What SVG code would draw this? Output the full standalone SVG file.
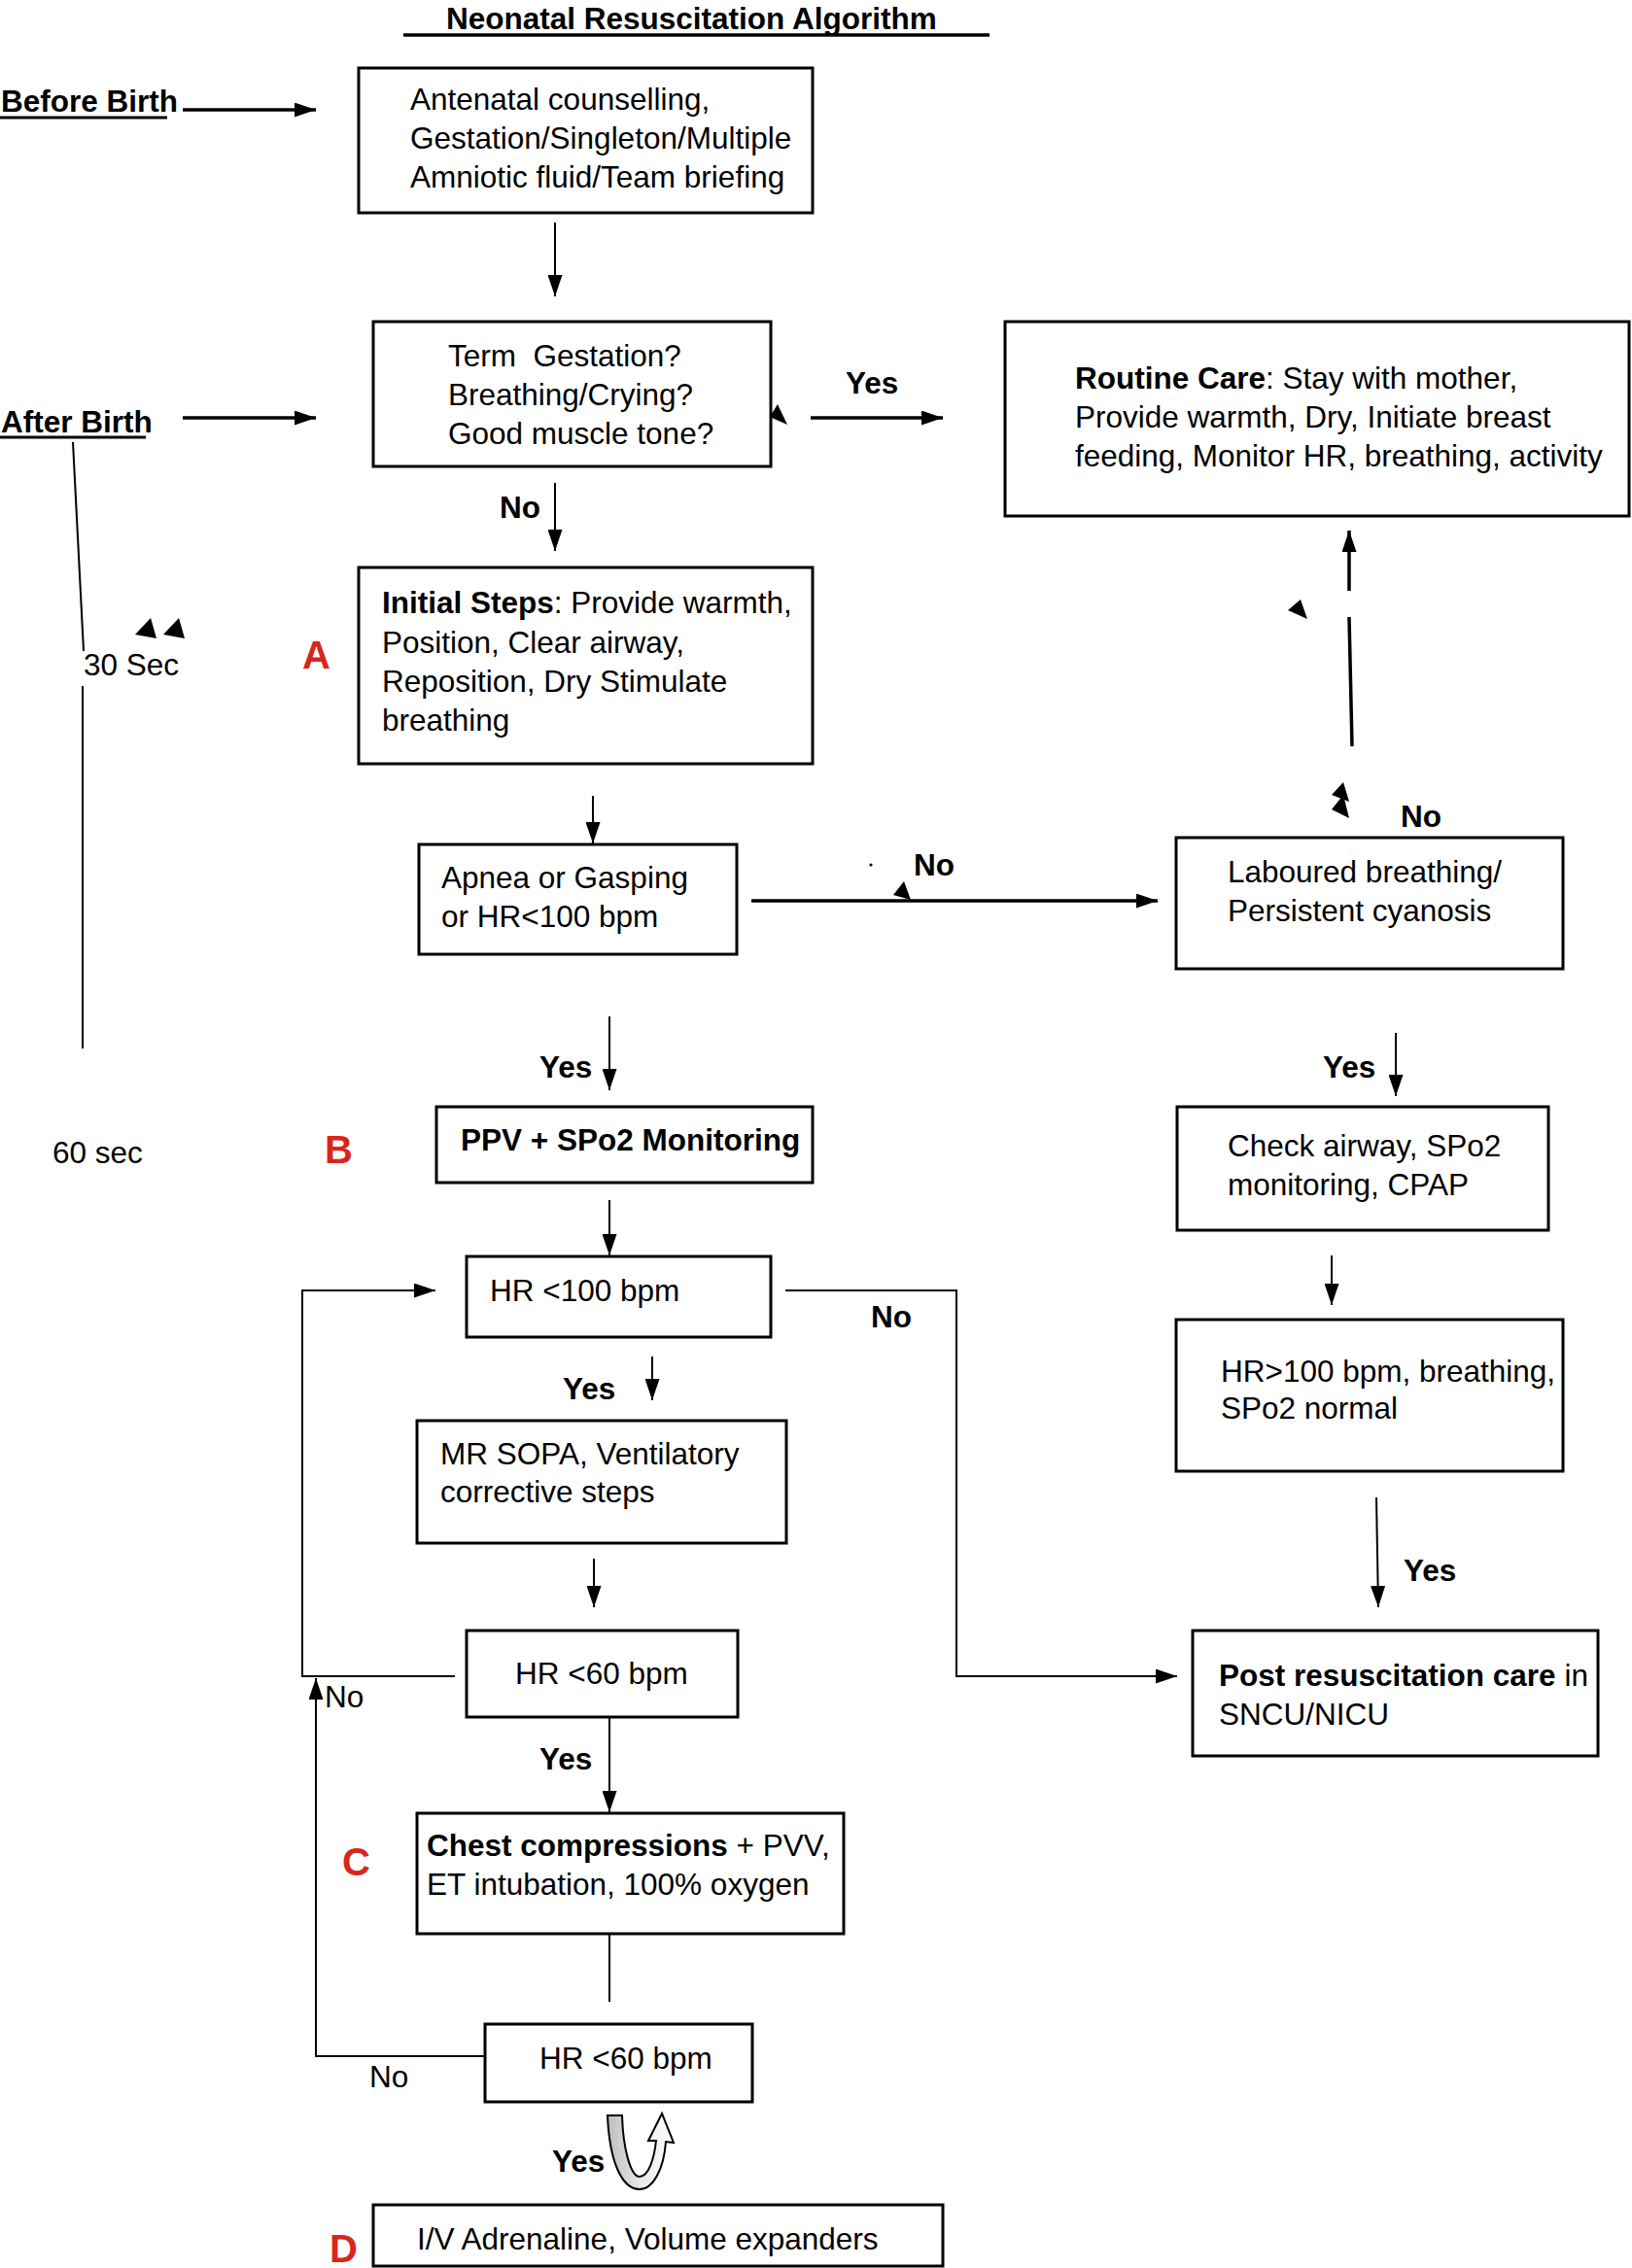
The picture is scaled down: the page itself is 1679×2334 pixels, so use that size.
<svg xmlns="http://www.w3.org/2000/svg" width="1679" height="2334" viewBox="0 0 1679 2334">
<style>
.t{font-family:"Liberation Sans",Arial,Helvetica,sans-serif;font-size:31.5px;fill:#000}
.b{font-weight:bold}
.red{font-family:"Liberation Sans",Arial,Helvetica,sans-serif;font-size:40px;font-weight:bold;fill:#d9261c}
.box{fill:#fff;stroke:#000;stroke-width:3}
.ln{stroke:#000;stroke-width:2;fill:none}
.thk{stroke-width:3.5}
.ah{fill:#000;stroke:none}
</style>
<defs>
<marker id="arr" markerUnits="userSpaceOnUse" viewBox="0 0 22 15" markerWidth="22" markerHeight="15" refX="22" refY="7.5" orient="auto">
<path d="M0,0 L22,7.5 L0,15 z" fill="#000"/>
</marker>
<linearGradient id="ug" x1="0" y1="0" x2="1" y2="0">
<stop offset="0" stop-color="#bdbdbd"/>
<stop offset="0.5" stop-color="#e8e8e8"/>
<stop offset="1" stop-color="#ffffff"/>
</linearGradient>
</defs>
<rect width="1679" height="2334" fill="#fff"/>

<g id="title">
<text class="t b" x="459" y="30">Neonatal Resuscitation Algorithm</text>
<line x1="415" y1="36" x2="1018" y2="36" stroke="#000" stroke-width="3.5"/>
</g>

<g id="labels">
<text class="t b" x="1" y="115">Before Birth</text>
<line x1="0" y1="121" x2="172" y2="121" stroke="#000" stroke-width="3"/>
<text class="t b" x="1" y="445">After Birth</text>
<line x1="0" y1="450" x2="150" y2="450" stroke="#000" stroke-width="3"/>
<text class="t" x="86" y="695">30 Sec</text>
<text class="t" x="54" y="1197">60 sec</text>
<text class="red" x="311" y="688">A</text>
<text class="red" x="334" y="1197">B</text>
<text class="red" x="352" y="1930">C</text>
<text class="red" x="339" y="2328">D</text>
<text class="t b" x="870" y="405">Yes</text>
<text class="t b" x="514" y="533">No</text>
<text class="t b" x="940" y="901">No</text>
<text class="t b" x="1441" y="851">No</text>
<text class="t b" x="555" y="1109">Yes</text>
<text class="t b" x="1361" y="1109">Yes</text>
<text class="t b" x="896" y="1366">No</text>
<text class="t b" x="579" y="1440">Yes</text>
<text class="t b" x="1444" y="1627">Yes</text>
<text class="t" x="334" y="1757">No</text>
<text class="t b" x="555" y="1821">Yes</text>
<text class="t" x="380" y="2148">No</text>
<text class="t b" x="568" y="2235">Yes</text>
</g>

<g id="n_antenatal">
<rect class="box" x="369" y="70" width="467" height="149"/>
<text class="t" x="422" y="113">Antenatal counselling,</text>
<text class="t" x="422" y="153">Gestation/Singleton/Multiple</text>
<text class="t" x="422" y="193">Amniotic fluid/Team briefing</text>
</g>

<g id="n_assess">
<rect class="box" x="384" y="331" width="409" height="149"/>
<text class="t" x="461" y="377" xml:space="preserve">Term  Gestation?</text>
<text class="t" x="461" y="417">Breathing/Crying?</text>
<text class="t" x="461" y="457">Good muscle tone?</text>
</g>

<g id="n_routine">
<rect class="box" x="1034" y="331" width="642" height="200"/>
<text class="t" x="1106" y="400"><tspan class="b">Routine Care</tspan>: Stay with mother,</text>
<text class="t" x="1106" y="440">Provide warmth, Dry, Initiate breast</text>
<text class="t" x="1106" y="480">feeding, Monitor HR, breathing, activity</text>
</g>

<g id="n_initial">
<rect class="box" x="369" y="584" width="467" height="202"/>
<text class="t" x="393" y="631"><tspan class="b">Initial Steps</tspan>: Provide warmth,</text>
<text class="t" x="393" y="672">Position, Clear airway,</text>
<text class="t" x="393" y="712">Reposition, Dry Stimulate</text>
<text class="t" x="393" y="752">breathing</text>
</g>

<g id="n_apnea">
<rect class="box" x="431" y="869" width="327" height="113"/>
<text class="t" x="454" y="914">Apnea or Gasping</text>
<text class="t" x="454" y="954">or HR&lt;100 bpm</text>
</g>

<g id="n_laboured">
<rect class="box" x="1210" y="862" width="398" height="135"/>
<text class="t" x="1263" y="908">Laboured breathing/</text>
<text class="t" x="1263" y="948">Persistent cyanosis</text>
</g>

<g id="n_ppv">
<rect class="box" x="449" y="1139" width="387" height="78"/>
<text class="t b" x="474" y="1184">PPV + SPo2 Monitoring</text>
</g>

<g id="n_check">
<rect class="box" x="1211" y="1139" width="382" height="127"/>
<text class="t" x="1263" y="1190">Check airway, SPo2</text>
<text class="t" x="1263" y="1230">monitoring, CPAP</text>
</g>

<g id="n_hr100">
<rect class="box" x="480" y="1293" width="313" height="83"/>
<text class="t" x="504" y="1339">HR &lt;100 bpm</text>
</g>

<g id="n_hrok">
<rect class="box" x="1210" y="1358" width="398" height="156"/>
<text class="t" x="1256" y="1422">HR&gt;100 bpm, breathing,</text>
<text class="t" x="1256" y="1460">SPo2 normal</text>
</g>

<g id="n_mrsopa">
<rect class="box" x="429" y="1462" width="380" height="126"/>
<text class="t" x="453" y="1507">MR SOPA, Ventilatory</text>
<text class="t" x="453" y="1546">corrective steps</text>
</g>

<g id="n_hr60a">
<rect class="box" x="480" y="1678" width="279" height="89"/>
<text class="t" x="530" y="1733">HR &lt;60 bpm</text>
</g>

<g id="n_post">
<rect class="box" x="1227" y="1678" width="417" height="129"/>
<text class="t" x="1254" y="1735"><tspan class="b">Post resuscitation care</tspan> in</text>
<text class="t" x="1254" y="1775">SNCU/NICU</text>
</g>

<g id="n_chest">
<rect class="box" x="429" y="1866" width="439" height="124"/>
<text class="t" x="439" y="1910"><tspan class="b">Chest compressions</tspan> + PVV,</text>
<text class="t" x="439" y="1950">ET intubation, 100% oxygen</text>
</g>

<g id="n_hr60b">
<rect class="box" x="499" y="2083" width="275" height="80"/>
<text class="t" x="555" y="2129">HR &lt;60 bpm</text>
</g>

<g id="n_adrenaline">
<rect class="box" x="384" y="2269" width="586" height="63"/>
<text class="t" x="429" y="2315">I/V Adrenaline, Volume expanders</text>
</g>

<g id="connectors">
<line class="ln thk" x1="188" y1="113" x2="325" y2="113" marker-end="url(#arr)"/>
<line class="ln thk" x1="188" y1="430" x2="325" y2="430" marker-end="url(#arr)"/>
<line class="ln" x1="571" y1="229" x2="571" y2="305" marker-end="url(#arr)"/>
<line class="ln thk" x1="834" y1="430" x2="970" y2="430" marker-end="url(#arr)"/>
<line class="ln" x1="571" y1="497" x2="571" y2="567" marker-end="url(#arr)"/>
<line class="ln" x1="610" y1="819" x2="610" y2="868" marker-end="url(#arr)"/>
<line class="ln thk" x1="773" y1="927" x2="1191" y2="927" marker-end="url(#arr)"/>
<line class="ln thk" x1="1388" y1="608" x2="1388" y2="546" marker-end="url(#arr)"/>
<line class="ln thk" x1="1388" y1="635" x2="1391" y2="768"/>
<line class="ln" x1="627" y1="1046" x2="627" y2="1122" marker-end="url(#arr)"/>
<line class="ln" x1="1436" y1="1063" x2="1436" y2="1128" marker-end="url(#arr)"/>
<line class="ln" x1="627" y1="1235" x2="627" y2="1292" marker-end="url(#arr)"/>
<line class="ln" x1="671" y1="1396" x2="671" y2="1441" marker-end="url(#arr)"/>
<line class="ln" x1="611" y1="1604" x2="611" y2="1654" marker-end="url(#arr)"/>
<line class="ln" x1="1370" y1="1292" x2="1370" y2="1343" marker-end="url(#arr)"/>
<line class="ln" x1="1416" y1="1541" x2="1418" y2="1654" marker-end="url(#arr)"/>
<polyline class="ln" stroke-width="2.5" points="468,1725 311,1725 311,1328 448,1328" marker-end="url(#arr)"/>
<polyline class="ln" stroke-width="2.5" points="808,1328 984,1328 984,1725 1211,1725" marker-end="url(#arr)"/>
<line class="ln" x1="627" y1="1767" x2="627" y2="1865" marker-end="url(#arr)"/>
<line class="ln" x1="627" y1="1990" x2="627" y2="2060"/>
<polyline class="ln" stroke-width="2.5" points="498,2116 325,2116 325,1727" marker-end="url(#arr)"/>
<line class="ln" x1="75" y1="455" x2="86" y2="670"/>
<line class="ln" x1="85" y1="706" x2="85" y2="1079"/>
<polygon class="ah" points="800,416 792,429 810,437"/>
<polygon class="ah" points="930,907 919,921 937,926"/>
<circle cx="896" cy="890" r="1.6" fill="#000"/>
<polygon class="ah" points="1338,617 1325,628 1345,637"/>
<polygon class="ah" points="1382,805 1370,818 1388,825"/>
<polygon class="ah" points="1382,818 1370,833 1388,842"/>
<polygon class="ah" points="155,636 139,653 161,657"/>
<polygon class="ah" points="184,636 168,653 190,657"/>
<path d="M625,2177 L640,2177 C641,2212 649,2240 658,2240 C667,2240 673,2222 675,2203 L667,2203 L681,2175 L693,2205 L685,2204 C683,2232 672,2253 658,2253 C640,2253 627,2225 625,2177 Z" fill="url(#ug)" stroke="#000" stroke-width="2"/>
</g>
</svg>
